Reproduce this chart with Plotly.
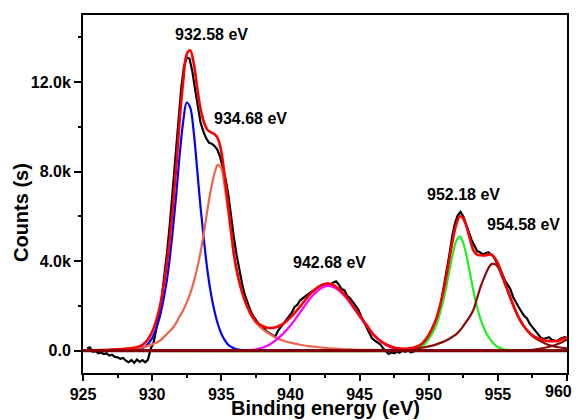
import plotly.graph_objects as go

# ---------------- data ----------------
# measured spectrum (black), binding energy in eV, counts
spectrum_energy = [
    925.3, 925.5, 925.7, 925.9, 926.1, 926.3, 926.5, 926.7, 926.9, 927.1,
    927.3, 927.5, 927.7, 927.9, 928.1, 928.3, 928.5, 928.7, 928.9, 929.1,
    929.3, 929.5, 929.7, 929.9, 930.1, 930.3, 930.5, 930.7, 930.9, 931.1,
    931.3, 931.5, 931.7, 931.9, 932.1, 932.3, 932.5, 932.7, 932.9, 933.1,
    933.3, 933.5, 933.7, 933.9, 934.1, 934.3, 934.5, 934.7, 934.9, 935.1,
    935.3, 935.5, 935.7, 935.9, 936.1, 936.3, 936.5, 936.7, 936.9, 937.1,
    937.3, 937.5, 937.7, 937.9, 938.1, 938.3, 938.5, 938.7, 938.9, 939.1,
    939.3, 939.5, 939.7, 939.9, 940.1, 940.3, 940.5, 940.7, 940.9, 941.1,
    941.3, 941.5, 941.7, 941.9, 942.1, 942.3, 942.5, 942.7, 942.9, 943.1,
    943.3, 943.5, 943.7, 943.9, 944.1, 944.3, 944.5, 944.7, 944.9, 945.1,
    945.3, 945.5, 945.7, 945.9, 946.1, 946.3, 946.5, 946.7, 946.9, 947.1,
    947.3, 947.5, 947.7, 947.9, 948.1, 948.3, 948.5, 948.7, 948.9, 949.1,
    949.3, 949.5, 949.7, 949.9, 950.1, 950.3, 950.5, 950.7, 950.9, 951.1,
    951.3, 951.5, 951.7, 951.9, 952.1, 952.3, 952.5, 952.7, 952.9, 953.1,
    953.3, 953.5, 953.7, 953.9, 954.1, 954.3, 954.5, 954.7, 954.9, 955.1,
    955.3, 955.5, 955.7, 955.9, 956.1, 956.3, 956.5, 956.7, 956.9, 957.1,
    957.3, 957.5, 957.7, 957.9, 958.1, 958.3, 958.5, 958.7, 958.9, 959.1,
    959.3, 959.5, 959.7, 959.9,
]
spectrum_counts = [
    100, 150, -50, -20, -120, -80, -150, -120, -220, -180,
    -280, -300, -370, -330, -450, -520, -420, -550, -400, -500,
    -420, -520, -400, 100, 350, 900, 1600, 2400, 3400, 4500,
    5800, 7200, 8800, 10300, 11700, 12700, 13100, 13050, 12500, 11700,
    10900, 10200, 9800, 9500, 9300, 9250, 9150, 9000, 8700, 8250,
    7700, 7000, 6000, 5100, 4300, 3600, 3000, 2500, 2100, 1800,
    1550, 1350, 1200, 1050, 980, 850, 780, 700, 620, 880,
    1050, 1200, 1400, 1550, 1700, 1950, 2050, 2250, 2350, 2450,
    2550, 2620, 2700, 2800, 2880, 2950, 2900, 3000, 2950, 3050,
    3100, 2950, 2750, 2700, 2450, 2350, 2200, 2050, 1850, 1550,
    1300, 1050, 800, 550, 450, 350, 280, 100, -50, -150,
    -80, -120, -50, -100, 0, -50, 20, -80, -50, 50,
    80, 250, 400, 550, 800, 1050, 1350, 1600, 2200, 2900,
    3500, 4300, 5100, 5700, 6050, 6200, 6000, 5650, 5250, 4950,
    4700, 4450, 4400, 4300, 4350, 4400, 4300, 4200, 3950, 3750,
    3450, 3150, 2950, 2750, 2400, 2150, 1950, 1750, 1550, 1450,
    1200, 1050, 900, 750, 580, 520, 550, 600, 480, 450,
    420, 520, 580, 620,
]

# fitted envelope (red)
envelope_energy = [
    925, 926, 927, 928, 929, 929.5, 930, 930.5, 931, 931.25, 931.5, 931.75,
    932, 932.25, 932.5, 932.75, 933, 933.25, 933.5, 933.75, 934, 934.25,
    934.5, 934.75, 935, 935.25, 935.5, 935.75, 936, 936.5, 937, 937.5, 938,
    938.5, 939, 939.5, 940, 940.5, 941, 941.5, 942, 942.5, 943, 943.5, 944,
    944.5, 945, 945.5, 946, 946.5, 947, 947.5, 948, 948.5, 949, 949.5, 950,
    950.5, 951, 951.25, 951.5, 951.75, 952, 952.25, 952.5, 952.75, 953,
    953.25, 953.5, 953.75, 954, 954.25, 954.5, 954.75, 955, 955.25, 955.5,
    955.75, 956, 956.5, 957, 957.5, 958, 958.5, 959, 959.5, 960,
]
envelope_counts = [
    0, 20, 40, 80, 170, 360, 840, 1810, 3600, 4860, 6430, 8270,
    10360, 12060, 13240, 13420, 12860, 11790, 10810, 10210, 9870, 9760,
    9680, 9490, 8910, 7770, 6460, 5160, 3980, 2620, 1800, 1310, 1090,
    1010, 1060, 1210, 1480, 1820, 2200, 2570, 2840, 2990, 2970, 2770, 2440,
    2020, 1570, 1150, 730, 440, 260, 140, 90, 90, 150, 310, 700,
    1340, 2480, 3240, 4110, 4970, 5650, 6010, 5900, 5510, 4950,
    4460, 4290, 4260, 4250, 4280, 4310, 4160, 3910, 3490, 3050,
    2630, 2220, 1490, 1000, 690, 530, 440, 420, 480, 600,
]

# component at 932.58 eV (blue)
peak1_energy = [925, 928, 929, 929.5, 930, 930.5, 931, 931.25, 931.5, 931.75,
                932, 932.25, 932.5, 932.75, 933, 933.25, 933.5, 933.75, 934,
                934.25, 934.5, 934.75, 935, 935.25, 935.5, 935.75, 936, 936.5,
                937.5, 960]
peak1_counts = [0, 10, 50, 180, 560, 1390, 2900, 4010, 5410, 7020,
                8810, 10260, 11090, 10870, 9810, 8140, 6410, 4910, 3570,
                2560, 1780, 1190, 760, 470, 260, 160, 80, 20,
                0, 0]

# component at 934.68 eV (coral)
peak2_energy = [925, 926, 927, 928, 929, 929.5, 930, 930.5, 931, 931.25, 931.5,
                931.75, 932, 932.25, 932.5, 932.75, 933, 933.25, 933.5, 933.75,
                934, 934.25, 934.5, 934.75, 935, 935.25, 935.5, 935.75, 936,
                936.5, 937, 937.5, 938, 938.5, 939, 939.5, 940, 940.5, 941,
                941.5, 942, 942.5, 943, 943.5, 944, 944.5, 945, 946, 947, 948,
                960]
peak2_counts = [0, 20, 40, 70, 120, 180, 280, 420, 700, 850, 1020,
                1250, 1550, 1800, 2150, 2550, 3050, 3650, 4400, 5300,
                6300, 7200, 7900, 8300, 8150, 7300, 6200, 5000, 3900,
                2600, 1780, 1250, 950, 740, 560, 440, 360, 290, 230,
                190, 150, 120, 100, 80, 60, 50, 40, 30, 20, 10,
                0]

# component at 942.68 eV (magenta)
peak3_energy = [925, 936.5, 937, 937.5, 938, 938.5, 939, 939.5, 940, 940.5, 941,
                941.5, 942, 942.5, 943, 943.5, 944, 944.5, 945, 945.5, 946,
                946.5, 947, 947.5, 948, 948.5, 949, 960]
peak3_counts = [0, 0, 20, 60, 140, 270, 500, 770, 1120, 1530, 1970,
                2380, 2690, 2870, 2870, 2690, 2380, 1970, 1530, 1120, 700,
                420, 220, 100, 40, 10, 0, 0]

# component at 952.18 eV (green)
peak4_energy = [925, 948, 948.5, 949, 949.5, 950, 950.5, 951, 951.25, 951.5,
                951.75, 952, 952.25, 952.5, 952.75, 953, 953.25, 953.5, 953.75,
                954, 954.25, 954.5, 954.75, 955, 955.25, 955.5, 955.75, 956,
                956.5, 957, 960]
peak4_counts = [0, 0, 20, 60, 180, 510, 1070, 2100, 2790, 3580,
                4340, 4910, 5110, 4800, 4190, 3400, 2610, 1940, 1410,
                1000, 680, 460, 280, 160, 90, 50, 30, 20,
                10, 0, 0]

# component at 954.58 eV (dark red)
peak5_energy = [925, 945, 947, 947.5, 948, 948.5, 949, 949.5, 950, 950.5, 951,
                951.25, 951.5, 951.75, 952, 952.25, 952.5, 952.75, 953, 953.25,
                953.5, 953.75, 954, 954.25, 954.5, 954.75, 955, 955.25, 955.5,
                955.75, 956, 956.5, 957, 957.5, 958, 958.5, 959, 959.5, 960]
peak5_counts = [0, 0, 20, 30, 40, 60, 90, 130, 190, 270, 380,
                450, 530, 630, 740, 900, 1100, 1320, 1550, 1850,
                2350, 2850, 3250, 3600, 3850, 3880, 3750, 3400, 3000,
                2600, 2200, 1480, 980, 650, 450, 300, 200, 140, 100]

# tail of the satellite beyond 960 eV (dark red)
satellite_energy = [925, 955, 956, 957, 957.5, 958, 958.5, 959, 959.5, 960]
satellite_counts = [0, 0, 0, 20, 40, 80, 140, 220, 340, 500]

# flat background (dark red)
background_energy = [925, 960]
background_counts = [0, 0]

# peak labels
label_texts = ["932.58 eV", "934.68 eV", "942.68 eV", "952.18 eV", "954.58 eV"]
label_energy = [934.26, 937.11, 942.79, 952.55, 956.89]
label_counts = [14110, 10390, 3950, 6990, 5650]

# axis ticks (the last x label sits pulled inside the frame in the reference)
x_major = [925, 930, 935, 940, 945, 950, 955, 960]
x_major_text = ["925", "930", "935", "940", "945", "950", "955", ""]
x_last_label = "960"
x_last_label_pos = 959.35
x_minor = [927.5, 932.5, 937.5, 942.5, 947.5, 952.5, 957.5]
y_major = [0, 4000, 8000, 12000]
y_major_text = ["0.0", "4.0k", "8.0k", "12.0k"]
y_minor = [2000, 6000, 10000, 14000]

# ---------------- figure ----------------
FONT = "Arial, Liberation Sans, Helvetica, sans-serif"
BOLD16 = dict(family=FONT, size=16, color="#000000", weight="bold")
BOLD20 = dict(family=FONT, size=20, color="#000000", weight="bold")

fig = go.Figure()

def add_line(x, y, color, width, shape="spline"):
    fig.add_trace(go.Scatter(x=x, y=y, mode="lines",
                             line=dict(color=color, width=width, shape=shape),
                             hoverinfo="skip", showlegend=False))

add_line(spectrum_energy, spectrum_counts, "#000000", 2.2, "linear")
add_line(peak1_energy, peak1_counts, "#0000FF", 2.2)
add_line(peak2_energy, peak2_counts, "#F0644A", 2.2)
add_line(peak3_energy, peak3_counts, "#FF00FF", 2.2)
add_line(peak4_energy, peak4_counts, "#22EE22", 2.2)
add_line(peak5_energy, peak5_counts, "#8B0A0A", 2.2)
add_line(satellite_energy, satellite_counts, "#8B0A0A", 2.2)
add_line(envelope_energy, envelope_counts, "#FF0000", 2.6)
add_line(background_energy, background_counts, "#800000", 3, "linear")

for t, xv, yv in zip(label_texts, label_energy, label_counts):
    fig.add_annotation(x=xv, y=yv, text=t, showarrow=False,
                       xanchor="center", yanchor="middle", font=BOLD16)

# last x tick label, kept inside the window as in the reference
fig.add_annotation(x=x_last_label_pos, xref="x", yref="paper", y=-0.053,
                   text=x_last_label, showarrow=False,
                   xanchor="center", yanchor="middle", font=BOLD16)

# axis titles
fig.add_annotation(xref="paper", yref="paper", x=0.5, y=-0.097,
                   text="Binding energy (eV)", showarrow=False,
                   xanchor="center", yanchor="middle", font=BOLD20)
fig.add_annotation(xref="paper", yref="paper", x=-0.128, y=0.447,
                   text="Counts (s)", showarrow=False, textangle=-90,
                   xanchor="center", yanchor="middle", font=BOLD20)

fig.update_xaxes(
    range=[925, 960], tickmode="array", tickvals=x_major,
    ticktext=x_major_text,
    ticks="outside", ticklen=6, tickwidth=2, tickcolor="#000000",
    showline=True, linecolor="#000000", linewidth=2, mirror=True,
    showgrid=False, zeroline=False, tickfont=BOLD16,
    minor=dict(tickmode="array", tickvals=x_minor, ticks="outside",
               ticklen=3, tickwidth=2, tickcolor="#000000", showgrid=False),
)
fig.update_yaxes(
    range=[-1000, 15000], tickmode="array", tickvals=y_major,
    ticktext=y_major_text,
    ticks="outside", ticklen=7, tickwidth=2, tickcolor="#000000",
    showline=True, linecolor="#000000", linewidth=2, mirror=True,
    showgrid=False, zeroline=False, tickfont=BOLD16,
    minor=dict(tickmode="array", tickvals=y_minor, ticks="outside",
               ticklen=3, tickwidth=2, tickcolor="#000000", showgrid=False),
)

# the page body adds an 8 px offset, so the margins are shifted to keep
# the plot frame at the reference position in the 581x420 window
fig.update_layout(
    width=581, height=420,
    margin=dict(l=75, r=22, t=5, b=55),
    paper_bgcolor="#FFFFFF", plot_bgcolor="#FFFFFF",
    showlegend=False,
)

fig.write_html("out.html")
